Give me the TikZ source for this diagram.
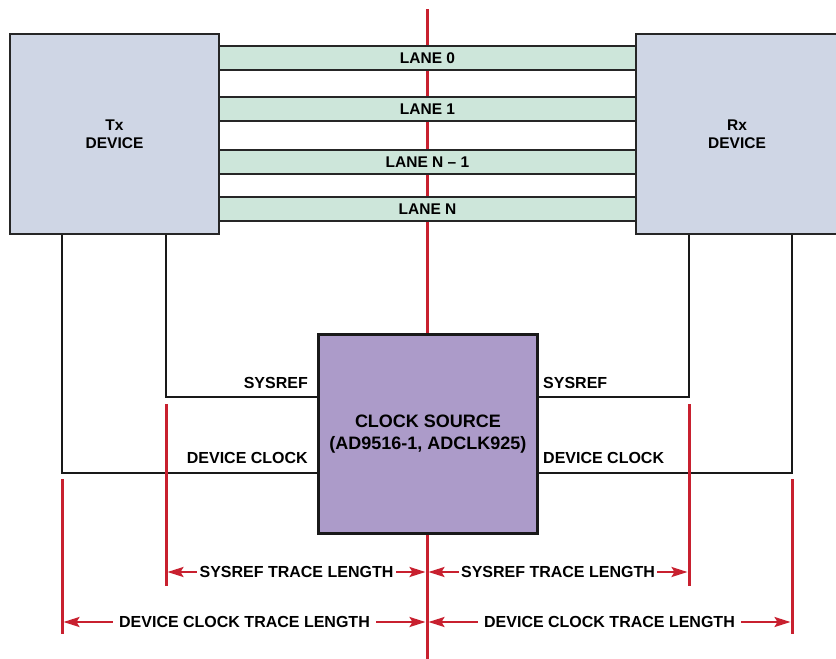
\documentclass[tikz,border=0pt]{standalone}
\usepackage{fontspec}
\setmainfont{Liberation Sans}
\usetikzlibrary{arrows.meta}
\definecolor{devfill}{HTML}{CFD6E5}
\definecolor{lanefill}{HTML}{CDE6DA}
\definecolor{clkfill}{HTML}{AC9BC9}
\definecolor{adired}{HTML}{C8202F}
\tikzset{
  devbox/.style={draw=black!85, line width=2pt, fill=devfill, minimum width=209pt, minimum height=200pt, inner sep=0pt, align=center, font=\fontsize{15.5}{17.5}\selectfont\bfseries},
  lanebox/.style={draw=black!85, line width=2pt, fill=lanefill, minimum width=417pt, minimum height=24pt, inner sep=0pt, font=\fontsize{15.5}{17}\selectfont\bfseries},
  clkbox/.style={draw=black!90, line width=3pt, fill=clkfill, minimum width=219pt, minimum height=199pt, inner sep=0pt, align=center, font=\fontsize{18}{22}\selectfont\bfseries},
  wire/.style={draw=black!90, line width=2pt},
  lbl/.style={font=\fontsize{16}{18}\selectfont\bfseries, inner sep=0pt},
  redline/.style={draw=adired, line width=3pt},
  dimarrow/.style={draw=adired, line width=2.2pt, {Stealth[length=16pt,width=10pt,inset=3pt]}-{Stealth[length=16pt,width=10pt,inset=3pt]}},
  dimlbl/.style={font=\fontsize{16}{18}\selectfont\bfseries, fill=white, inner sep=2.5pt}
}
\begin{document}
\begin{tikzpicture}[x=1pt,y=-1pt]
\useasboundingbox (0,0) rectangle (836,659);
\fill[white] (0,0) rectangle (836,659);
% centre red line
\coordinate (ctop) at (427,9);
\coordinate (cbot) at (427,659);
\draw[redline] (ctop) -- (cbot);
% devices
\node[devbox] (tx) at (114.5,134) {Tx\\DEVICE};
\node[devbox, minimum width=202pt] (rx) at (737,134) {Rx\\DEVICE};
% lanes
\node[lanebox] (l0) at (427.5,58) {LANE 0};
\node[lanebox] (l1) at (427.5,109) {LANE 1};
\node[lanebox] (l2) at (427.5,162) {LANE N -- 1};
\node[lanebox] (l3) at (427.5,209) {LANE N};
% clock source
\node[clkbox] (clk) at (428,434) {CLOCK SOURCE\\(AD9516-1, ADCLK925)};
% helper coordinates
\coordinate (xdl) at (62,0);
\coordinate (xsl) at (166,0);
\coordinate (xsr) at (689,0);
\coordinate (xdr) at (792,0);
\coordinate (ysr) at (0,397);
\coordinate (ydc) at (0,473);
% wires
\draw[wire] (tx.south -| xsl) |- (clk.west |- ysr);
\draw[wire] (tx.south -| xdl) |- (clk.west |- ydc);
\draw[wire] (rx.south -| xsr) |- (clk.east |- ysr);
\draw[wire] (rx.south -| xdr) |- (clk.east |- ydc);
% wire labels
\node[lbl, anchor=base east] (sl) at (308,388.5) {SYSREF};
\node[lbl, anchor=base east] (dl) at (308,463) {DEVICE CLOCK};
\node[lbl, anchor=base west] (sr) at (543,388.5) {SYSREF};
\node[lbl, anchor=base west] (dr) at (543,463) {DEVICE CLOCK};
% dimension verticals
\coordinate (dl1) at (62,479);  \coordinate (dl2) at (62,634);
\coordinate (sl1) at (166,404); \coordinate (sl2) at (166,586);
\coordinate (sr1) at (689,404); \coordinate (sr2) at (689,586);
\coordinate (dr1) at (792,479); \coordinate (dr2) at (792,634);
\draw[redline] (dl1) -- (dl2);
\draw[redline] (sl1) -- (sl2);
\draw[redline] (sr1) -- (sr2);
\draw[redline] (dr1) -- (dr2);
% dimension arrows
\coordinate (as1) at (167.5,572); \coordinate (as2) at (425.5,572);
\coordinate (as3) at (428.5,572); \coordinate (as4) at (687.5,572);
\coordinate (ad1) at (63.5,622);  \coordinate (ad2) at (425.5,622);
\coordinate (ad3) at (428.5,622); \coordinate (ad4) at (790.5,622);
\draw[dimarrow] (as1) -- node[dimlbl] (t1) {SYSREF TRACE LENGTH} (as2);
\draw[dimarrow] (as3) -- node[dimlbl] (t2) {SYSREF TRACE LENGTH} (as4);
\draw[dimarrow] (ad1) -- node[dimlbl, inner xsep=6pt] (t3) {DEVICE CLOCK TRACE LENGTH} (ad2);
\draw[dimarrow] (ad3) -- node[dimlbl, inner xsep=6pt] (t4) {DEVICE CLOCK TRACE LENGTH} (ad4);
\end{tikzpicture}
\end{document}
